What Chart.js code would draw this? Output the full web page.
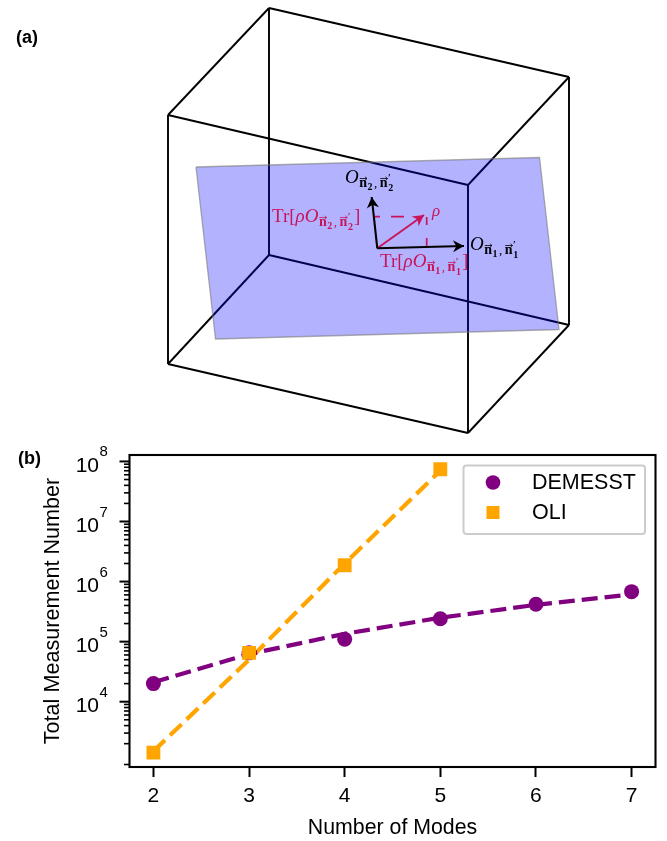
<!DOCTYPE html>
<html>
<head>
<meta charset="utf-8">
<title>DEMESST vs OLI</title>
<script src="https://cdn.jsdelivr.net/npm/chart.js@4/dist/chart.umd.min.js"></script>
<style>
  html, body { margin: 0; padding: 0; background: #fff; }
  body { position: relative; width: 667px; height: 841px; overflow: hidden; }
  canvas { position: absolute; left: 0; }
  #schematic { top: 0; }
  #counts { top: 440px; }
</style>
</head>
<body>
<canvas id="schematic" width="667" height="440"></canvas>
<canvas id="counts" width="667" height="401"></canvas>
<script>
// panel (b) values
var modes = [2, 3, 4, 5, 6, 7];
var oliModes = [2, 3, 4, 5];
var demesstCounts = [20000, 65000, 110000, 240000, 420000, 680000];
var oliCounts = [1420, 65000, 1870000, 74000000];
var demesstFit = [21000, 62000, 135000, 250000, 410000, 610000];
var oliFit = [1500, 50000, 2000000, 70000000];
var tickExponents = [4, 5, 6, 7, 8];
var seriesNames = ['DEMESST', 'OLI'];

// panel (a) schematic, in picture units
var boxEdges = [
  [[269, 8], [569, 77]], [[569, 77], [468, 185]], [[468, 185], [168, 115]], [[168, 115], [269, 8]],
  [[269, 255], [569, 325]], [[569, 325], [468, 433]], [[468, 433], [168, 364]], [[168, 364], [269, 255]],
  [[269, 8], [269, 255]], [[569, 77], [569, 325]], [[468, 185], [468, 433]], [[168, 115], [168, 364]]
];
var plane = [[196, 167], [539.5, 157.5], [559, 329.5], [215.5, 339], [196, 167]];
var origin = [377.3, 248.3];
var arrowO1 = [464, 246];
var arrowO2 = [371.7, 197];
var arrowRho = [424, 215];

var PURPLE = '#800080';
var ORANGE = '#ffa500';
var CRIMSON = '#c8145a';
var SANS = '"Liberation Sans", Arial, sans-serif';
var SERIF = '"Liberation Serif", serif';

function toPoints(pairs) {
  return pairs.map(function (p) { return { x: p[0], y: p[1] }; });
}
function zip(xs, ys) {
  return xs.map(function (x, i) { return { x: x, y: ys[i] }; });
}

// --- panel (a) ---
function segment(pairs, color, width, dash) {
  return {
    data: toPoints(pairs), showLine: true, pointRadius: 0, borderColor: color,
    borderWidth: width, borderDash: dash || [], borderCapStyle: 'butt', tension: 0, fill: false
  };
}

// draws mixed runs of text one after the other; a part with vec set gets an arrow above it
function runs(ctx, x, y, parts, color) {
  ctx.fillStyle = color;
  ctx.strokeStyle = color;
  ctx.textAlign = 'left';
  ctx.textBaseline = 'alphabetic';
  parts.forEach(function (p) {
    ctx.font = p[1];
    var yy = y + (p[2] || 0);
    ctx.fillText(p[0], x, yy);
    var w = ctx.measureText(p[0]).width;
    if (p[4]) {
      ctx.lineWidth = 0.8;
      ctx.beginPath();
      ctx.moveTo(x + 0.5, yy - 8.5);
      ctx.lineTo(x + w, yy - 8.5);
      ctx.moveTo(x + w - 2, yy - 10.2);
      ctx.lineTo(x + w, yy - 8.5);
      ctx.lineTo(x + w - 2, yy - 6.8);
      ctx.stroke();
    }
    x += w + (p[3] || 0);
  });
}

function subscript(idx) {
  var b = 'bold 14px ' + SERIF;
  var s = 'bold 10px ' + SERIF;
  return [
    ['n', b, 4, 0.5, true], [idx, s, 7, 1.5], [',', '13px ' + SERIF, 4, 2.5],
    ['n', b, 4, 0.5, true], ['\u2032', s, -2, -2.5], [idx, s, 8, 1]
  ];
}

var schematicLabels = {
  id: 'schematicLabels',
  afterDatasetsDraw: function (chart) {
    var ctx = chart.ctx;
    var sx = chart.scales.x, sy = chart.scales.y;

    function head(tip, from, color, size) {
      var a = Math.atan2(sy.getPixelForValue(tip[1]) - sy.getPixelForValue(from[1]),
        sx.getPixelForValue(tip[0]) - sx.getPixelForValue(from[0]));
      ctx.save();
      ctx.translate(sx.getPixelForValue(tip[0]), sy.getPixelForValue(tip[1]));
      ctx.rotate(a);
      ctx.fillStyle = color;
      ctx.beginPath();
      ctx.moveTo(0, 0);
      ctx.lineTo(-size, -size * 0.55);
      ctx.lineTo(-size * 0.7, 0);
      ctx.lineTo(-size, size * 0.55);
      ctx.closePath();
      ctx.fill();
      ctx.restore();
    }
    head(arrowO1, origin, '#000', 11);
    head(arrowO2, origin, '#000', 11);
    head(arrowRho, origin, CRIMSON, 11);

    ctx.save();
    var it = 'italic 19px ' + SERIF;
    var rm = '19px ' + SERIF;
    runs(ctx, 345, 183, [['O', it, 0, 0.5]].concat(subscript('2')), '#000');
    runs(ctx, 470, 250, [['O', it, 0, 0.5]].concat(subscript('1')), '#000');
    runs(ctx, 432, 216, [['\u03C1', 'italic 17px ' + SERIF]], CRIMSON);
    runs(ctx, 272, 222, [['Tr[', rm], ['\u03C1O', it, 0, 0.5]].concat(subscript('2'), [[']', rm, 0]]), CRIMSON);
    runs(ctx, 380, 267, [['Tr[', rm], ['\u03C1O', it, 0, 0.5]].concat(subscript('1'), [[']', rm, 0]]), CRIMSON);
    runs(ctx, 16, 43, [['(a)', 'bold 18px ' + SANS]], '#000');
    ctx.restore();
  }
};

var schematicSets = [];
schematicSets.push({
  data: toPoints(plane), showLine: true, pointRadius: 0, tension: 0,
  borderColor: 'rgba(120,120,120,0.6)', borderWidth: 1.3,
  backgroundColor: 'rgba(0,0,255,0.3)', fill: 'shape'
});
boxEdges.forEach(function (edge) {
  schematicSets.push(segment(edge, '#000', 1.9));
});

new Chart(document.getElementById('schematic').getContext('2d'), {
  type: 'scatter',
  data: {
    datasets: [
      segment([origin, arrowO1], '#000', 2.1),
      segment([origin, arrowO2], '#000', 2.1),
      segment([origin, arrowRho], CRIMSON, 1.9),
      segment([[375, 216.7], [418, 216.7]], CRIMSON, 1.7, [5, 11, 13, 100]),
      segment([[426.7, 247], [426.7, 217]], CRIMSON, 1.7, [9, 13, 8, 100])
    ].concat(schematicSets)
  },
  options: {
    responsive: false,
    animation: false,
    layout: { padding: 0 },
    scales: {
      x: { type: 'linear', display: false, min: 0, max: 667 },
      y: { type: 'linear', display: false, min: 0, max: 440, reverse: true }
    },
    plugins: { legend: { display: false }, tooltip: { enabled: false } }
  },
  plugins: [schematicLabels]
});

// --- panel (b) ---
var axisFrame = {
  id: 'axisFrame',
  afterDraw: function (chart) {
    var ctx = chart.ctx, area = chart.chartArea, yScale = chart.scales.y;
    ctx.save();

    // log ticks on the left
    yScale.ticks.forEach(function (t) {
      var y = yScale.getPixelForValue(t.value);
      ctx.strokeStyle = '#000';
      ctx.lineWidth = t.major ? 2 : 1.6;
      ctx.beginPath();
      ctx.moveTo(area.left, y);
      ctx.lineTo(area.left - (t.major ? 10 : 5.5), y);
      ctx.stroke();
    });

    // labels as 10 with a raised exponent
    ctx.fillStyle = '#000';
    ctx.textBaseline = 'alphabetic';
    tickExponents.forEach(function (e) {
      var y = yScale.getPixelForValue(Math.pow(10, e));
      ctx.font = '21px ' + SANS;
      ctx.textAlign = 'right';
      ctx.fillText('10', 99, y + 10.5);
      ctx.font = '15px ' + SANS;
      ctx.textAlign = 'left';
      ctx.fillText(String(e), 99.5, y - 5);
    });

    ctx.strokeStyle = '#000';
    ctx.lineWidth = 2.1;
    ctx.strokeRect(area.left, area.top, area.right - area.left, area.bottom - area.top);

    // legend frame and entries
    ctx.strokeStyle = '#cccccc';
    ctx.fillStyle = 'rgba(255,255,255,0.8)';
    ctx.lineWidth = 2;
    ctx.beginPath();
    ctx.roundRect(463.5, 25.5, 181.5, 68.5, 3);
    ctx.fill();
    ctx.stroke();

    ctx.fillStyle = PURPLE;
    ctx.beginPath();
    ctx.arc(493, 42.5, 7.3, 0, Math.PI * 2);
    ctx.fill();
    ctx.fillStyle = ORANGE;
    ctx.fillRect(486.5, 66, 13, 13);

    ctx.fillStyle = '#000';
    ctx.font = '21.5px ' + SANS;
    ctx.textAlign = 'left';
    ctx.textBaseline = 'middle';
    ctx.fillText(seriesNames[0], 532, 43);
    ctx.fillText(seriesNames[1], 532, 73);

    ctx.textBaseline = 'alphabetic';
    ctx.font = 'bold 18px ' + SANS;
    ctx.fillText('(b)', 18, 24);
    ctx.restore();
  }
};

new Chart(document.getElementById('counts').getContext('2d'), {
  type: 'line',
  data: {
    datasets: [
      {
        label: seriesNames[1], data: zip(oliModes, oliCounts), showLine: false,
        pointStyle: 'rect', pointRadius: 9.8, pointHoverRadius: 9.8,
        backgroundColor: ORANGE, borderColor: ORANGE, borderWidth: 0
      },
      {
        label: seriesNames[0], data: zip(modes, demesstCounts), showLine: false,
        pointStyle: 'circle', pointRadius: 7.5, pointHoverRadius: 7.5,
        backgroundColor: PURPLE, borderColor: PURPLE, borderWidth: 0
      },
      {
        label: 'DEMESST fit', data: zip(modes, demesstFit), pointRadius: 0,
        borderColor: PURPLE, borderWidth: 4.2, borderDash: [16, 7], tension: 0
      },
      {
        label: 'OLI fit', data: zip(oliModes, oliFit), pointRadius: 0,
        borderColor: ORANGE, borderWidth: 4.2, borderDash: [16, 7], tension: 0
      }
    ]
  },
  options: {
    responsive: false,
    animation: false,
    layout: { padding: { top: 15, right: 11.5 } },
    scales: {
      x: {
        type: 'linear', min: 1.75, max: 7.25,
        afterFit: function (s) { s.height = 74; },
        afterBuildTicks: function (s) {
          s.ticks = modes.map(function (m) { return { value: m }; });
        },
        grid: { drawOnChartArea: false, drawTicks: true, tickLength: 10, tickColor: '#000', tickWidth: 2 },
        border: { display: false },
        ticks: { color: '#000', font: { family: SANS, size: 21 }, padding: 7, maxRotation: 0, includeBounds: false },
        title: {
          display: true, text: 'Number of Modes', color: '#000',
          font: { family: SANS, size: 21.3 }, padding: { top: 0, bottom: 0 }
        }
      },
      y: {
        type: 'logarithmic', min: 818, max: 128000000,
        afterFit: function (s) { s.width = 129.5; },
        afterBuildTicks: function (s) {
          var list = [];
          for (var e = 2; e < 8; e++) {
            for (var m = 2; m < 10; m++) {
              var v = m * Math.pow(10, e);
              if (v >= s.min) { list.push({ value: v, major: false }); }
            }
          }
          tickExponents.forEach(function (e) { list.push({ value: Math.pow(10, e), major: true }); });
          s.ticks = list;
        },
        grid: { display: false },
        border: { display: false },
        ticks: { display: false },
        title: {
          display: true, text: 'Total Measurement Number', color: '#000',
          font: { family: SANS, size: 21.6 }, padding: { top: 40, bottom: 0 }
        }
      }
    },
    plugins: { legend: { display: false }, tooltip: { enabled: false } }
  },
  plugins: [axisFrame]
});
</script>
</body>
</html>
